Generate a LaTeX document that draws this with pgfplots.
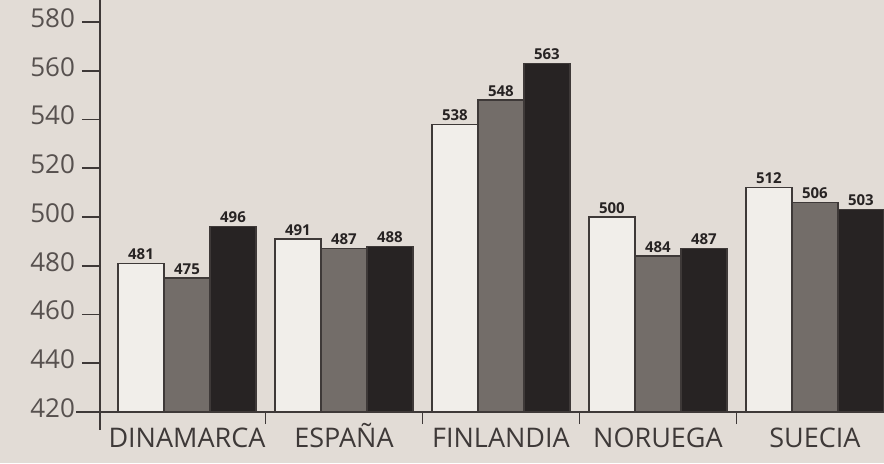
\documentclass[border=0pt]{standalone}
\usepackage{fontspec}
\setmainfont{Open Sans}
\usepackage{pgfplots}
\pgfplotsset{compat=1.18}

\definecolor{paper}{HTML}{E2DCD6}
\definecolor{axisc}{HTML}{3E3938}
\definecolor{barwhite}{HTML}{F1EEEA}
\definecolor{bargray}{HTML}{736D69}
\definecolor{barblack}{HTML}{272323}
\definecolor{tickc}{HTML}{57514F}

\begin{document}
\begin{tikzpicture}
% paper background, same size as the photo
\path[use as bounding box, fill=paper] (-50pt,-25.5pt) rectangle (392pt,206pt);
\begin{axis}[
    at={(0,0)}, anchor=south west,
    scale only axis,
    width=392pt,
    height=206pt,
    xmin=-0.554, xmax=4.44,
    ymin=420, ymax=589,
    ybar=0pt,
    bar width=23pt,
    axis lines*=left,
    axis line style={draw=axisc, line width=0.8pt},
    tick style={draw=axisc, line width=0.8pt},
    tick align=outside,
    ytick={420,440,...,580},
    major tick length=9pt,
    minor tick length=6pt,
    yticklabel style={font=\fontsize{13}{15}\selectfont, text=tickc, yshift=2pt},
    /pgf/number format/assume math mode=true,
    xtick={0,1,2,3,4},
    xticklabels={DINAMARCA,ESPAÑA,FINLANDIA,NORUEGA,SUECIA},
    major x tick style={draw=none},
    minor xtick={0.5,1.5,2.5,3.5},
    xticklabel style={font=\fontsize{13.5}{15}\selectfont, text=axisc,
        text height=10pt, text depth=0pt, yshift=5pt},
    nodes near coords,
    every node near coord/.append style={font=\bfseries\fontsize{7.5}{8}\selectfont, text=barblack, inner sep=1.5pt},
    clip=false,
]
\addplot[draw=axisc, line width=0.6pt, fill=barwhite] coordinates {
    (0,481) (1,491) (2,538) (3,500) (4,512)
};
\addplot[draw=axisc, line width=0.6pt, fill=bargray] coordinates {
    (0,475) (1,487) (2,548) (3,484) (4,506)
};
\addplot[draw=axisc, line width=0.6pt, fill=barblack] coordinates {
    (0,496) (1,488) (2,563) (3,487) (4,503)
};
% axis lines run a little past the corner, as in the print
\draw[axisc, line width=0.8pt] (rel axis cs:0,0) -- ++(0pt,-9pt);
\draw[axisc, line width=0.8pt] (rel axis cs:0,0) -- ++(-12pt,0pt);
\end{axis}
\end{tikzpicture}
\end{document}
